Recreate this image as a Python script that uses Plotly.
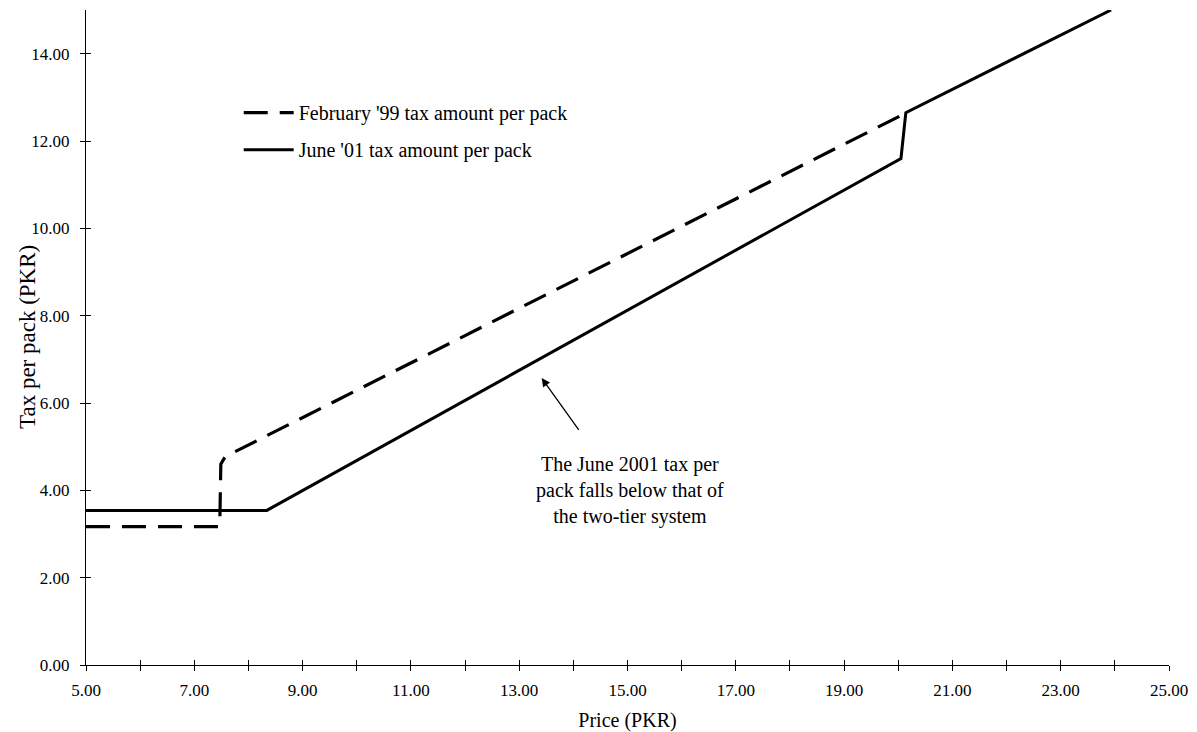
import plotly.graph_objects as go

# Data
feb_price = [5.0, 7.47, 7.49, 7.57, 20.14]
feb_tax = [3.17, 3.17, 4.60, 4.77, 12.64]

june_price = [5.0, 8.34, 20.05, 20.14, 23.93]
june_tax = [3.54, 3.54, 11.60, 12.65, 15.0]

x_tick_vals = list(range(5, 26))
x_tick_text = [f"{v:.2f}" if v % 2 == 1 else "" for v in x_tick_vals]
y_tick_vals = [0, 2, 4, 6, 8, 10, 12, 14]
y_tick_text = [f"{v:.2f}" for v in y_tick_vals]

FONT = "Liberation Serif"

fig = go.Figure()
fig.add_trace(go.Scatter(
    x=feb_price, y=feb_tax, mode="lines",
    name="February '99 tax amount per pack",
    line=dict(color="black", width=3.2, dash="24px,12px"),
    legendgroup="a",
))
fig.add_trace(go.Scatter(
    x=june_price, y=june_tax, mode="lines",
    name="June '01 tax amount per pack",
    line=dict(color="black", width=3),
    legendgroup="b",
))

axis_common = dict(showgrid=False, zeroline=False, showline=True,
                   linecolor="black", linewidth=1, tickcolor="black",
                   ticklen=5, tickwidth=1, automargin=False)

fig.update_layout(
    width=1189, height=724,
    paper_bgcolor="white", plot_bgcolor="white",
    margin=dict(l=78, r=28, t=2, b=67),
    font=dict(family=FONT, size=18, color="black"),
    showlegend=True,
    legend=dict(
        x=0.141, y=0.873, xanchor="left", yanchor="top",
        font=dict(family=FONT, size=20, color="black"),
        bgcolor="rgba(0,0,0,0)", traceorder="grouped", tracegroupgap=8,
        itemwidth=50,
    ),
    xaxis=dict(
        range=[5, 25], tickmode="array", tickvals=x_tick_vals,
        ticktext=x_tick_text, ticks="outside", ticklabelstandoff=5,
        title=dict(text="Price (PKR)", font=dict(family=FONT, size=20), standoff=15),
        tickfont=dict(family=FONT, size=17),
        **axis_common,
    ),
    yaxis=dict(
        range=[0, 15], tickmode="array", tickvals=y_tick_vals,
        ticktext=y_tick_text, ticks="outside", ticklabelstandoff=7,
        tickfont=dict(family=FONT, size=17),
        **axis_common,
    ),
    xaxis2=dict(
        range=[5, 25], overlaying="x", matches="x", side="bottom",
        tickmode="array", tickvals=x_tick_vals, ticks="inside",
        showticklabels=False, showgrid=False, zeroline=False, showline=False,
        tickcolor="black", ticklen=5, tickwidth=1, anchor="y2", automargin=False,
    ),
    yaxis2=dict(
        range=[0, 15], overlaying="y", matches="y", side="left",
        tickmode="array", tickvals=y_tick_vals, ticks="inside",
        showticklabels=False, showgrid=False, zeroline=False, showline=False,
        tickcolor="black", ticklen=5, tickwidth=1, anchor="x2", automargin=False,
    ),
)

# invisible trace to activate the overlay axes (inner tick halves)
fig.add_trace(go.Scatter(x=[None], y=[None], xaxis="x2", yaxis="y2",
                         showlegend=False, hoverinfo="skip"))

# y-axis title
fig.add_annotation(
    x=-0.054, y=0.5, xref="paper", yref="paper",
    text="Tax per pack (PKR)", textangle=-90, showarrow=False,
    xanchor="center", yanchor="middle",
    font=dict(family=FONT, size=23, color="black"),
)

fig.add_annotation(
    x=15.04, y=4.0, xref="x", yref="y",
    text="The June 2001 tax per<br>pack falls below that of<br>the two-tier system",
    showarrow=False, align="center",
    font=dict(family=FONT, size=20, color="black"),
)
fig.add_annotation(
    x=13.415, y=6.57, ax=14.12, ay=5.35,
    xref="x", yref="y", axref="x", ayref="y",
    text="", showarrow=True, arrowhead=2, arrowsize=1.3,
    arrowwidth=1.3, arrowcolor="black",
)

fig.write_html("out.html")
